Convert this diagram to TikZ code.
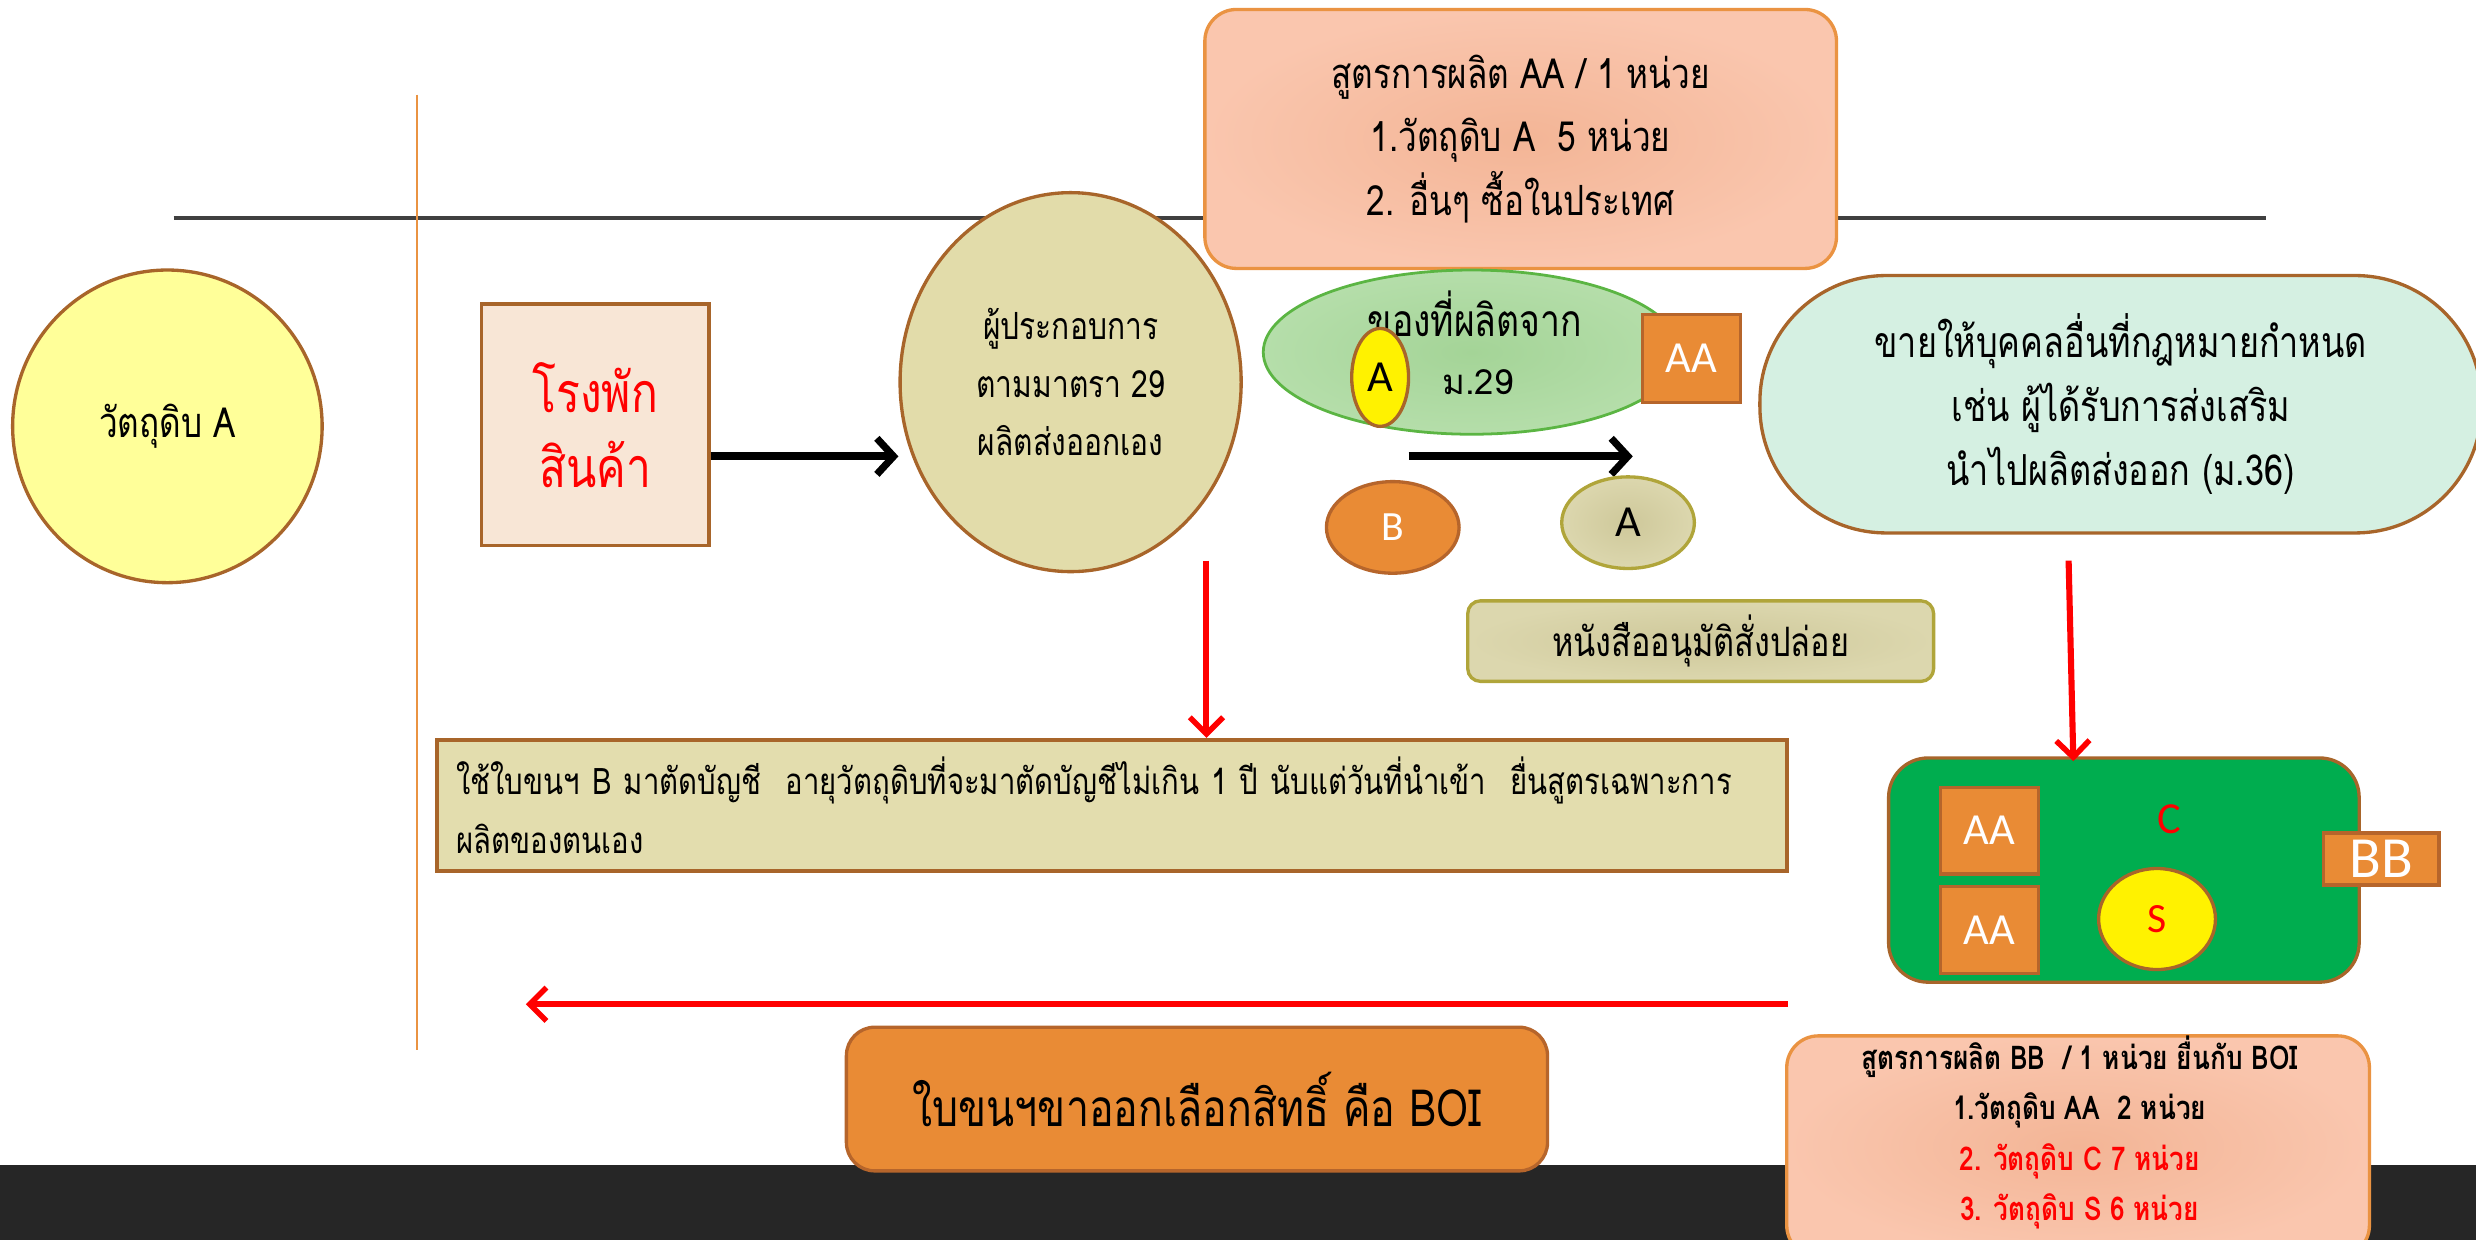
\documentclass[tikz,border=0pt]{standalone}
\usepackage{fontspec}
\newfontfamily\thai[Script=Thai,FakeStretch=0.8]{Loma}
\newfontfamily\thaiplain[Script=Thai]{Loma}
\newfontfamily\latin{Carlito}
\usetikzlibrary{shapes.geometric,arrows.meta}
\def\px{0.2mm}
\definecolor{brn}{HTML}{A8652A}
\definecolor{paleyellow}{HTML}{FFFF99}
\definecolor{depotfill}{HTML}{F8E6D6}
\definecolor{tan}{HTML}{E2DCAA}
\definecolor{salmonin}{HTML}{F3B596}
\definecolor{salmonout}{HTML}{FAC6AE}
\definecolor{salmonline}{HTML}{EA9342}
\definecolor{leafin}{HTML}{A4D497}
\definecolor{leafout}{HTML}{B5DEAA}
\definecolor{leafline}{HTML}{5BB543}
\definecolor{org}{HTML}{E98B35}
\definecolor{orgline}{HTML}{B6652B}
\definecolor{olivein}{HTML}{CEC89A}
\definecolor{oliveout}{HTML}{DCD7AE}
\definecolor{oliveline}{HTML}{B0A53A}
\definecolor{mint}{HTML}{D5F0E2}
\definecolor{notefill}{HTML}{E3DDAE}
\definecolor{plantgreen}{HTML}{00AD4F}
\definecolor{darkbar}{HTML}{262626}
\definecolor{rulegrey}{HTML}{404040}
\definecolor{arrowred}{HTML}{FF0000}

\begin{document}
\begin{tikzpicture}[x=0.2mm,y=-0.2mm,
    blackarrow/.style={line width=2.8pt,-{Straight Barb[length=6pt,width=13pt,line width=2.6pt]}},
    redarrow/.style={draw=arrowred,line width=2.2pt,-{Straight Barb[length=6pt,width=12pt,line width=2pt]}},
    orangebox/.style={rectangle,draw=orgline,fill=org,line width=1.2pt,inner sep=0pt,text=white,font=\latin\fontsize{16}{16}\selectfont}]
			\useasboundingbox (0,0) rectangle (1568,785);
			%%%%% START %%%%%
			\fill[darkbar] (0,738) rectangle (1568,785);
			\draw[rulegrey,line width=1.3pt] (110,138) -- (1435,138);
			\draw[salmonline,line width=0.6pt] (264,60) -- (264,665);
			
			\node[ellipse,draw=brn,fill=paleyellow,line width=1.2pt,minimum width=196*\px,minimum height=198*\px,
			      font=\thai\fontsize{15}{18}\selectfont] (rawA) at (106,270) {วัตถุดิบ A};
			
			\node[rectangle,draw=brn,fill=depotfill,line width=1.2pt,minimum width=144*\px,minimum height=153*\px,
			      text=arrowred,align=center,font=\thai\fontsize{20}{27}\selectfont] (depot) at (377,269) {โรงพัก\\สินค้า};
			
			\node[ellipse,draw=brn,fill=tan,line width=1.2pt,minimum width=216*\px,minimum height=240*\px,
			      align=center,font=\thai\fontsize{13.5}{21}\selectfont] (op) at (678,242) {ผู้ประกอบการ\\ตามมาตรา 29\\ผลิตส่งออกเอง};
			
			\node[rectangle,rounded corners=4mm,draw=salmonline,inner color=salmonin,outer color=salmonout,line width=1.2pt,
			      minimum width=400*\px,minimum height=164*\px,align=center,font=\thai\fontsize{15}{23}\selectfont] (recipeAA) at (963,88)
			      {สูตรการผลิต AA / 1 หน่วย\\1.วัตถุดิบ A\ \ 5 หน่วย\\2. อื่นๆ ซื้อในประเทศ};
			
			\node[ellipse,draw=leafline,inner color=leafin,outer color=leafout,line width=1pt,minimum width=264*\px,minimum height=104*\px] (made) at (932,223) {};
			\node[font=\thai\fontsize{16}{16}\selectfont] (madetxt) at (934,199) {ของที่ผลิตจาก};
			\node[ellipse,draw=brn,fill=yellow,line width=1.2pt,minimum width=36*\px,minimum height=62*\px,inner sep=0pt,
			      font=\latin\fontsize{16}{16}\selectfont] (inA) at (874,239) {A};
			\node[font=\thaiplain\fontsize{12.5}{14}\selectfont] (m29) at (936,242) {ม.29};
			\node[orangebox,minimum width=62*\px,minimum height=56*\px] (outAA) at (1071,227) {AA};
			
			\coordinate (m29from) at (892,289);
			\coordinate (m29to) at (1034,289);
			\draw[blackarrow] (m29from) -- (m29to);
			
			\node[ellipse,draw=orgline,fill=org,line width=1.2pt,minimum width=84*\px,minimum height=58*\px,
			      text=white,font=\latin\fontsize{15}{15}\selectfont] (billB) at (882,334) {B};
			\node[ellipse,draw=oliveline,inner color=olivein,outer color=oliveout,line width=1.2pt,minimum width=84*\px,minimum height=58*\px,
			      font=\latin\fontsize{16}{16}\selectfont] (billA) at (1031,331) {A};
			
			\node[rectangle,rounded corners=1.6mm,draw=oliveline,inner color=olivein,outer color=oliveout,line width=1.2pt,
			      minimum width=295*\px,minimum height=51*\px,font=\thai\fontsize{14.6}{15}\selectfont] (permit) at (1077,406) {หนังสืออนุมัติสั่งปล่อย};
			
			\node[rectangle,rounded corners=16mm,draw=brn,fill=mint,line width=1.2pt,minimum width=457*\px,minimum height=163*\px,
			      align=center,font=\thai\fontsize{15.4}{23}\selectfont] (sell) at (1343,256)
			      {ขายให้บุคคลอื่นที่กฎหมายกำหนด\\เช่น ผู้ได้รับการส่งเสริม\\นำไปผลิตส่งออก (ม.36)};
			
			\node[rectangle,draw=brn,fill=notefill,line width=1.4pt,minimum width=855*\px,minimum height=83*\px,
			      text width=830*\px,align=left,font=\thai\fontsize{13.2}{21}\selectfont] (note) at (704,510)
			      {ใช้ใบขนฯ B มาตัดบัญชี\ \ อายุวัตถุดิบที่จะมาตัดบัญชีไม่เกิน 1 ปี นับแต่วันที่นำเข้า\ \ ยื่นสูตรเฉพาะการ\\ผลิตของตนเอง};
			
			\node[rectangle,rounded corners=5mm,draw=brn,fill=plantgreen,line width=1.2pt,minimum width=298*\px,minimum height=142*\px] (plant) at (1345,551) {};
			\node[orangebox,minimum width=62*\px,minimum height=55*\px] (plantAAa) at (1260,526) {AA};
			\node[orangebox,minimum width=62*\px,minimum height=55*\px] (plantAAb) at (1260,589) {AA};
			\node[text=arrowred,font=\latin\fontsize{16}{16}\selectfont] (plantC) at (1374,519) {C};
			\node[ellipse,draw=brn,fill=yellow,line width=1.2pt,minimum width=74*\px,minimum height=64*\px,
			      text=arrowred,font=\latin\fontsize{15}{15}\selectfont] (plantS) at (1366,582) {S};
			\node[orangebox,minimum width=73*\px,minimum height=33*\px,font=\latin\fontsize{21}{21}\selectfont] (outBB) at (1508,544) {BB};
			
			\node[rectangle,rounded corners=4mm,draw=salmonline,inner color=salmonin,outer color=salmonout,line width=1.2pt,
			      minimum width=369*\px,minimum height=140*\px] (recipeBB) at (1316,726) {};
			\node[align=center,font=\thai\fontsize{11.8}{18.2}\selectfont\bfseries] (recipeBBtxt) at (1317,717)
			      {สูตรการผลิต BB\ \ / 1 หน่วย ยื่นกับ BOI\\1.วัตถุดิบ AA\ \ 2 หน่วย\\\textcolor{arrowred}{2. วัตถุดิบ C 7 หน่วย}\\\textcolor{arrowred}{3. วัตถุดิบ S 6 หน่วย}};
			
			\node[rectangle,rounded corners=3.6mm,draw=orgline,fill=org,line width=1.2pt,minimum width=444*\px,minimum height=91*\px,
			      font=\thai\fontsize{18.5}{19}\selectfont] (boi) at (758,696) {ใบขนฯขาออกเลือกสิทธิ์ คือ BOI};
			
			\coordinate (lvl) at (0,289);
			\draw[blackarrow] (depot.east |- lvl) -- (op.west |- lvl);
			
			\coordinate (opdown) at (764,355);
			\draw[redarrow] (opdown) -- (opdown |- note.north);
			\coordinate (selldown) at (1310,355);
			\coordinate (plantin) at (1313,482);
			\draw[redarrow] (selldown) -- (plantin);
			\coordinate (backfrom) at (1132,636);
			\coordinate (backto) at (333,636);
			\draw[redarrow] (backfrom) -- (backto);
			%%%%% END %%%%%
		\end{tikzpicture}
\end{document}
